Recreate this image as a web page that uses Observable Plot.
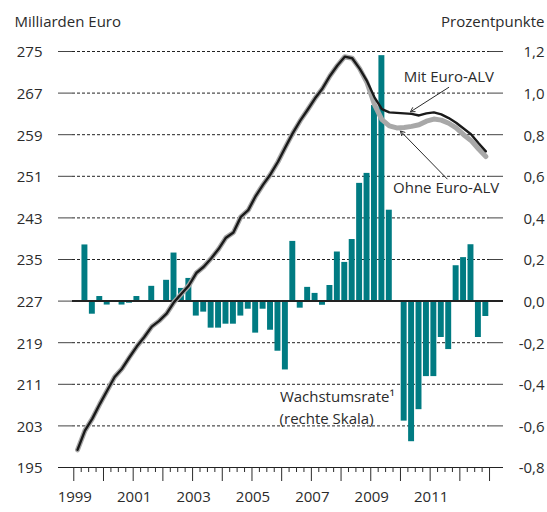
<!DOCTYPE html>
<html><head><meta charset="utf-8">
<script src="https://cdn.jsdelivr.net/npm/d3@7"></script>
<script src="https://cdn.jsdelivr.net/npm/@observablehq/plot@0.6"></script>
<style>html,body{margin:0;padding:0;background:#fff}</style>
</head><body><div id="chart"></div>
<script>
// Quarterly data, first quarter = 1999 Q1
const startYear = 1999;
const mitEuroALV = [
  198.4, 202.1, 204.4, 207.2, 209.8, 212.4, 214.0, 216.2, 218.3, 220.1,
  222.1, 223.2, 224.6, 226.8, 228.4, 230.0, 232.4, 233.6, 235.2, 237.0,
  239.2, 240.2, 243.2, 244.5, 247.2, 249.4, 251.4, 253.8, 256.6, 259.3,
  261.7, 263.8, 266.0, 267.9, 270.3, 272.3, 274.0, 273.7, 271.7, 269.3,
  266.2, 263.9, 263.3, 263.2, 263.1, 263.0, 262.7, 263.1, 263.3, 262.9,
  262.2, 261.3, 260.2, 259.1, 257.4, 255.8
];
const ohneEuroALV = [
  198.4, 202.1, 204.4, 207.2, 209.8, 212.4, 214.0, 216.2, 218.3, 220.1,
  222.1, 223.2, 224.6, 226.8, 228.4, 230.0, 232.4, 233.6, 235.2, 237.0,
  239.2, 240.2, 243.2, 244.5, 247.2, 249.4, 251.4, 253.8, 256.6, 259.3,
  261.7, 263.8, 266.0, 267.9, 270.3, 272.3, 274.0, 273.7, 271.7, 269.0,
  264.8, 261.9, 260.7, 260.3, 260.4, 260.6, 260.9, 261.6, 262.0, 261.8,
  261.2, 260.3, 259.0, 257.9, 256.3, 254.8
];
// Wachstumsrate in Prozentpunkten (rechte Skala)
const wachstumsrate = [
  null, 0.27, -0.063, 0.022, -0.019, null, -0.019, -0.010, 0.022, null,
  0.071, null, 0.100, 0.231, 0.061, 0.109, -0.072, -0.053, -0.130, -0.130,
  -0.111, -0.111, -0.072, -0.039, -0.154, -0.039, -0.140, -0.241, -0.331, 0.287,
  -0.034, 0.066, 0.037, -0.020, 0.075, 0.236, 0.186, 0.296, 0.566, 0.614,
  0.94, 1.18, 0.437, null, -0.577, -0.676, -0.522, -0.363, -0.363, -0.175,
  -0.233, 0.170, 0.209, 0.271, -0.175, -0.074
];
const leftTicks = [195, 203, 211, 219, 227, 235, 243, 251, 259, 267, 275];
const rightTicks = [-0.8, -0.6, -0.4, -0.2, 0.0, 0.2, 0.4, 0.6, 0.8, 1.0, 1.2];
const rightTickLabels = ["-0,8", "-0,6", "-0,4", "-0,2", "0,0", "0,2", "0,4", "0,6", "0,8", "1,0", "1,2"];
const yearLabels = [1999, 2001, 2003, 2005, 2007, 2009, 2011];
const leftTitle = "Milliarden Euro";
const rightTitle = "Prozentpunkte";

// derived
const k = (leftTicks[leftTicks.length - 1] - leftTicks[0]) / (rightTicks[rightTicks.length - 1] - rightTicks[0]);
const zeroLeft = leftTicks[0] - rightTicks[0] * k;
const tOf = i => startYear + i / 4 + 1 / 8;
const lineData = mitEuroALV.map((v, i) => ({t: tOf(i), mit: v, ohne: ohneEuroALV[i]}));
const barData = wachstumsrate.map((v, i) => ({t: tOf(i), v})).filter(d => d.v != null);
const xMin = 1998.485, xMax = 2013.47;
const pxPerYear = 445 / (xMax - xMin);
const tickLen = 14 / pxPerYear;
const yearTicks = d3.range(1999, 2014);
const quarterTicks = d3.range(1999, 2013.01, 0.25).filter(t => t % 1 !== 0);
const gridLevels = leftTicks.filter(v => v !== leftTicks[0] && v !== zeroLeft);
const F = "Open Sans";
const C = "#2b2b2b";

const chart = Plot.plot({
  width: 547, height: 512,
  marginTop: 51, marginBottom: 45, marginLeft: 58, marginRight: 44,
  x: {domain: [xMin, xMax], axis: null, label: null},
  y: {domain: [leftTicks[0], leftTicks[leftTicks.length - 1]], axis: null, label: null},
  style: {fontFamily: F, background: "white"},
  marks: [
    // dashed grid
    Plot.ruleY(gridLevels, {y: d => d, x1: xMin + tickLen, x2: xMax - tickLen, stroke: "#222", strokeWidth: 1, strokeDasharray: "3,2"}),
    // tick segments left & right
    Plot.ruleY(leftTicks, {y: d => d, x1: xMin, x2: xMin + tickLen, stroke: "#444", strokeWidth: 1}),
    Plot.ruleY(leftTicks, {y: d => d, x1: xMax - tickLen, x2: xMax, stroke: "#444", strokeWidth: 1}),
    // bars
    Plot.rect(barData, {x1: d => d.t - 0.1, x2: d => d.t + 0.1, y1: () => zeroLeft, y2: d => zeroLeft + d.v * k, fill: "#007b82"}),
    // zero line
    Plot.ruleY([zeroLeft], {x1: xMin + tickLen, x2: xMax, stroke: "#222", strokeWidth: 2}),
    // bottom axis
    Plot.ruleY([leftTicks[0]], {x1: xMin, x2: xMax, stroke: "#222", strokeWidth: 1}),
    Plot.axisX(yearTicks, {tickSize: 14, tickFormat: () => "", label: null, stroke: C}),
    Plot.axisX(quarterTicks, {tickSize: 5, tickFormat: () => "", label: null, stroke: C}),
    Plot.text(yearLabels, {x: d => d, dx: 1, frameAnchor: "bottom", dy: 34.5, text: d => String(d), fontFamily: F, fontSize: 15, fill: C}),
    // lines
    Plot.line(lineData, {x: "t", y: "ohne", stroke: "#a8a8a8", strokeWidth: 5, strokeLinejoin: "round", strokeLinecap: "round"}),
    Plot.line(lineData, {x: "t", y: "mit", stroke: "#1a1a1a", strokeWidth: 2.4, strokeLinejoin: "round", strokeLinecap: "round"}),
    // y tick labels
    Plot.text(leftTicks, {y: d => d, text: d => String(d), frameAnchor: "left", dx: -16, dy: 1, textAnchor: "end", fontFamily: F, fontSize: 15, fill: C}),
    Plot.text(rightTicks, {y: d => zeroLeft + d * k, text: (d, i) => rightTickLabels[i], frameAnchor: "right", dx: 41, dy: 1, textAnchor: "end", fontFamily: F, fontSize: 15, fill: C}),
    // titles
    Plot.text([leftTitle], {frameAnchor: "top-left", dx: -44, dy: -35, textAnchor: "start", fontFamily: F, fontSize: 15, fill: C}),
    Plot.text([rightTitle], {frameAnchor: "top-right", dx: 41, dy: -35, textAnchor: "end", fontFamily: F, fontSize: 15, fill: C}),
    // annotations
    Plot.text(["Mit Euro-ALV"], {x: 2010.11, y: 270.1, textAnchor: "start", fontFamily: F, fontSize: 15, fill: C}),
    Plot.arrow([0], {x1: 2011.626, y1: 268.1, x2: 2010.337, y2: 263.4, stroke: C, strokeWidth: 1, headLength: 7}),
    Plot.text(["Ohne Euro-ALV"], {x: 2009.75, y: 248.8, textAnchor: "start", fontFamily: F, fontSize: 15, fill: C}),
    Plot.arrow([0], {x1: 2011.572, y1: 250.5, x2: 2010.0, y2: 259.7, stroke: C, strokeWidth: 1, headLength: 7}),
    Plot.text(["Wachstumsrate¹"], {x: 2005.94, y: 208.6, textAnchor: "start", fontFamily: F, fontSize: 15, fill: C}),
    Plot.text(["(rechte Skala)"], {x: 2005.93, y: 204.2, textAnchor: "start", fontFamily: F, fontSize: 15, fill: C})
  ]
});
document.getElementById("chart").appendChild(chart);
</script>
</body></html>
